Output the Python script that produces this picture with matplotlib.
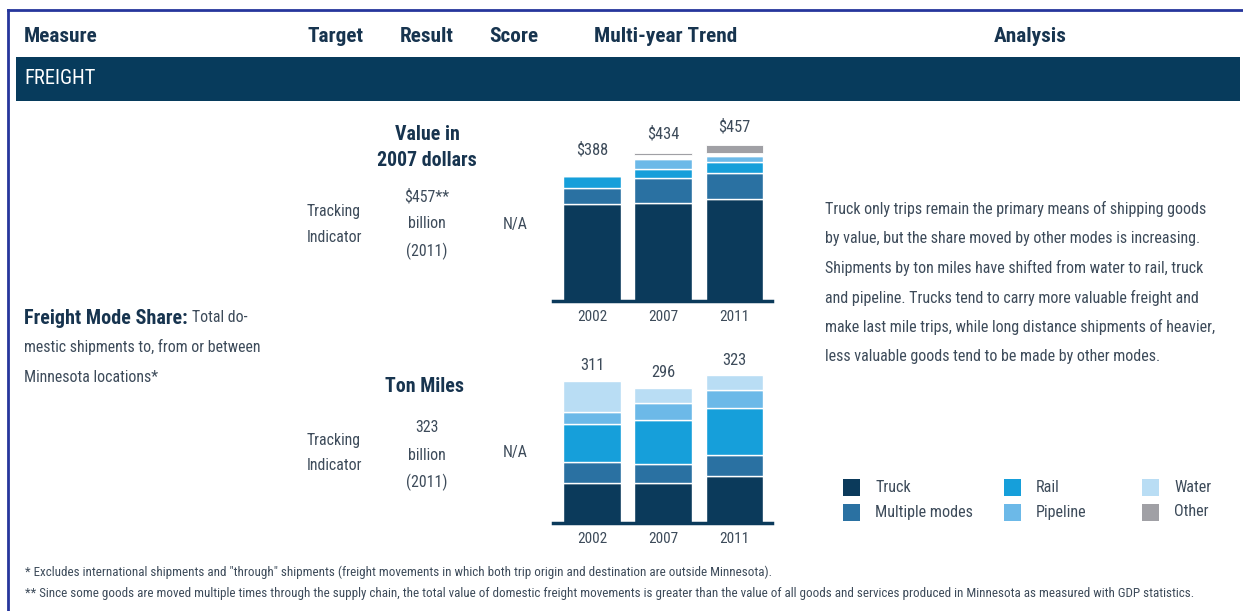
import matplotlib
matplotlib.use('Agg')
import matplotlib.pyplot as plt
from matplotlib.patches import Rectangle
from matplotlib.lines import Line2D
import numpy as np

plt.rcParams['font.family'] = ['Roboto Condensed', 'Archivo Narrow', 'Liberation Sans', 'DejaVu Sans']

years = ['2002', '2007', '2011']
modes = ['Truck', 'Multiple modes', 'Rail', 'Pipeline', 'Water', 'Other']
colors = ['#0B3A5B', '#2A71A2', '#169FDA', '#6CB9E8', '#B9DDF4', '#A0A0A5']

# value in 2007 dollars ($ billion)
value_truck = [283, 286, 299]
value_multi = [49, 74, 77]
value_rail = [34, 26, 32]
value_pipeline = [0, 32, 18]
value_water = [0, 0, 0]
value_other = [2, 4, 24]
value_total = [388, 434, 457]

# ton miles (billion)
ton_truck = [86, 86, 103]
ton_multi = [47, 42, 45]
ton_rail = [84, 96, 103]
ton_pipeline = [26, 38, 39]
ton_water = [68, 34, 33]
ton_other = [0, 0, 0]
ton_total = [311, 296, 323]

W, H = 1243, 611
NAVY = '#17344F'
BODY = '#3D4B5A'
BODY_SIZE = 11.4

fig = plt.figure(figsize=(W / 100, H / 100), dpi=100)


def fx(x):
    return x / W


def fy(y):
    return 1 - y / H


def txt(x, y, s, **kw):
    kw.setdefault('color', BODY)
    kw.setdefault('fontsize', BODY_SIZE)
    kw.setdefault('va', 'center')
    return fig.text(fx(x), fy(y), s, **kw)


# frame
fig.add_artist(Line2D([fx(8), fx(1243)], [fy(10), fy(10)], color='#26369C', lw=2))
fig.add_artist(Line2D([fx(8), fx(8)], [fy(10), fy(611)], color='#26369C', lw=2))

# header row
for x, s, ha in [(24, 'Measure', 'left'), (307, 'Target', 'left'), (400, 'Result', 'left'),
                 (489, 'Score', 'left'), (666, 'Multi-year Trend', 'center'),
                 (1030, 'Analysis', 'center')]:
    txt(x, 37, s, ha=ha, fontsize=15.3, fontweight='bold', color=NAVY)

fig.add_artist(Rectangle((fx(16), fy(101)), fx(1240) - fx(16), fy(57) - fy(101),
                         transform=fig.transFigure, color='#073B5C', lw=0))
txt(24, 78, 'FREIGHT', color='white', fontsize=14.8)

# measure column
lead = txt(24, 318, 'Freight Mode Share:', fontweight='bold', color=NAVY, fontsize=14.5)
fig.canvas.draw()
lead_end = lead.get_window_extent().x1
txt(lead_end + 4, 318, 'Total do-')
txt(24, 347, 'mestic shipments to, from or between')
txt(24, 377, 'Minnesota locations*')

# value block
txt(427, 135, 'Value in', ha='center', fontweight='bold', color=NAVY, fontsize=14.3)
txt(427, 160, '2007 dollars', ha='center', fontweight='bold', color=NAVY, fontsize=14.3)
txt(307, 212, 'Tracking')
txt(307, 238, 'Indicator')
txt(427, 197, '$457**', ha='center')
txt(427, 224, 'billion', ha='center')
txt(427, 251, '(2011)', ha='center')
txt(515, 224, 'N/A', ha='center')

# ton miles block
txt(425, 387, 'Ton Miles', ha='center', fontweight='bold', color=NAVY, fontsize=14.3)
txt(307, 440, 'Tracking')
txt(307, 465, 'Indicator')
txt(427, 427, '323', ha='center')
txt(427, 455, 'billion', ha='center')
txt(427, 482, '(2011)', ha='center')
txt(515, 452, 'N/A', ha='center')

# analysis
analysis = ['Truck only trips remain the primary means of shipping goods',
            'by value, but the share moved by other modes is increasing.',
            'Shipments by ton miles have shifted from water to rail, truck',
            'and pipeline. Trucks tend to carry more valuable freight and',
            'make last mile trips, while long distance shipments of heavier,',
            'less valuable goods tend to be made by other modes.']
for i, line in enumerate(analysis):
    txt(825, 209 + i * 29.6, line, fontsize=11.5)

# footnotes
txt(25, 572, '* Excludes international shipments and "through" shipments (freight movements in which both trip origin and destination are outside Minnesota).', fontsize=9.4)
txt(25, 593, '** Since some goods are moved multiple times through the supply chain, the total value of domestic freight movements is greater than the value of all goods and services produced in Minnesota as measured with GDP statistics.', fontsize=9.4)


def bar_chart(top, base, scale, series, totals, fmt, offset):
    left, right = 553, 772
    ax = fig.add_axes([fx(left), fy(base), fx(right) - fx(left), fy(top) - fy(base)])
    x = np.arange(len(years))
    bottom = np.zeros(len(years))
    for name, vals, c in zip(modes[:-1], series[:-1], colors[:-1]):
        ax.bar(x, vals, 0.81, bottom=bottom, color=c, edgecolor='white', lw=1, label=name)
        bottom += np.array(vals)
    other = np.array(series[-1])
    ax.bar(x, other, 0.81, bottom=np.array(totals) - other, color=colors[-1],
           edgecolor='white', lw=0.6)
    for xi, t in zip(x, totals):
        ax.annotate(fmt.format(t), (xi, t), xytext=(0, offset), textcoords='offset pixels',
                    ha='center', va='center', fontsize=11.8, color=BODY)
    ax.axhline(0, color='#0B3A5B', lw=2.5, clip_on=False)
    ax.set_xlim(-0.547, 2.526)
    ax.set_ylim(0, (base - top) / scale)
    ax.set_xticks(x, years)
    ax.tick_params(length=0, labelsize=11, colors=BODY, pad=7)
    ax.set_yticks([])
    for s in ax.spines.values():
        s.set_visible(False)
    ax.patch.set_alpha(0)
    return ax


bar_chart(105, 300.7, 0.34,
          [value_truck, value_multi, value_rail, value_pipeline, value_water, value_other],
          value_total, '${}', 19)
bar_chart(345, 522.7, 0.4567,
          [ton_truck, ton_multi, ton_rail, ton_pipeline, ton_water, ton_other],
          ton_total, '{}', 15)

# legend
leg_x = [843, 1004, 1142]
leg_y = [487, 512]
for i, (name, c) in enumerate(zip(modes, colors)):
    cx, cy = leg_x[i // 2], leg_y[i % 2]
    fig.add_artist(Rectangle((fx(cx), fy(cy + 8.5)), fx(17), 17 / H,
                             transform=fig.transFigure, color=c, lw=0))
    txt(cx + 32, cy, name, fontsize=11.6)

fig.savefig('out.png', dpi=100)
